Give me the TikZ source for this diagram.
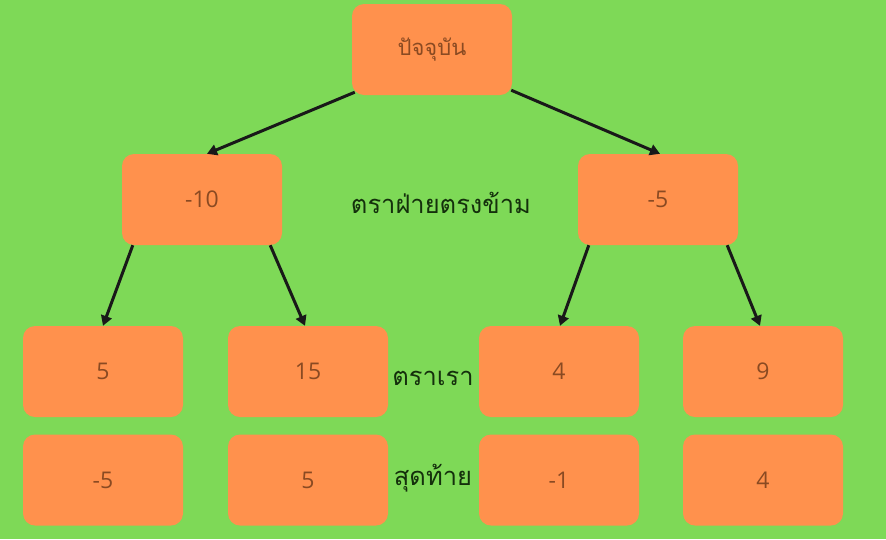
\documentclass[tikz,border=0pt]{standalone}
\usepackage{fontspec}
\setmainfont{Open Sans}
\newfontfamily\thaifont[Script=Thai]{Loma}
\usetikzlibrary{arrows.meta}
\definecolor{bg}{HTML}{7ED957}
\definecolor{boxc}{HTML}{FF914D}
\definecolor{numc}{HTML}{8A4A22}
\definecolor{labc}{HTML}{14300C}
\tikzset{
  valbox/.style={fill=boxc, rounded corners=12pt, minimum width=160pt, minimum height=91pt, inner sep=0pt, text=numc, font=\fontsize{23}{26}\selectfont},
  conn/.style={line width=3pt, -{Triangle[length=10pt,width=11pt]}, draw=black!90},
  lab/.style={text=labc, font=\thaifont\fontsize{25.5}{28}\selectfont, inner sep=0pt}
}
\begin{document}
\begin{tikzpicture}[x=1pt,y=-1pt]
\fill[bg] (0,0) rectangle (886,539);
\useasboundingbox (0,0) rectangle (886,539);
\node[valbox] (root) at (432,49.5) {\thaifont\fontsize{22}{24}\selectfont ปัจจุบัน};
\node[valbox] (L) at (202,199.5) {-10};
\node[valbox] (R) at (658,199.5) {-5};
\node[valbox] (LL) at (103,371.5) {5};
\node[valbox] (LR) at (308,371.5) {15};
\node[valbox] (RL) at (559,371.5) {4};
\node[valbox] (RR) at (763,371.5) {9};
\node[valbox] (FLL) at (103,480) {-5};
\node[valbox] (FLR) at (308,480) {5};
\node[valbox] (FRL) at (559,480) {-1};
\node[valbox] (FRR) at (763,480) {4};
\node[lab] (opp) at (441,203) {ตราฝ่ายตรงข้าม};
\node[lab] (ours) at (433,378) {ตราเรา};
\node[lab] (final) at (433,478) {สุดท้าย};
\draw[conn] ([xshift=3pt,yshift=3pt]root.south west) -- ([xshift=5pt]L.north);
\draw[conn] ([xshift=-1pt,yshift=5pt]root.south east) -- ([xshift=2pt]R.north);
\draw[conn] ([xshift=11pt]L.south west) -- ([xshift=0pt]LL.north);
\draw[conn] ([xshift=-12pt]L.south east) -- ([xshift=-3pt]LR.north);
\draw[conn] ([xshift=11pt]R.south west) -- ([xshift=1pt]RL.north);
\draw[conn] ([xshift=-11pt]R.south east) -- ([xshift=-3pt]RR.north);
\end{tikzpicture}
\end{document}
